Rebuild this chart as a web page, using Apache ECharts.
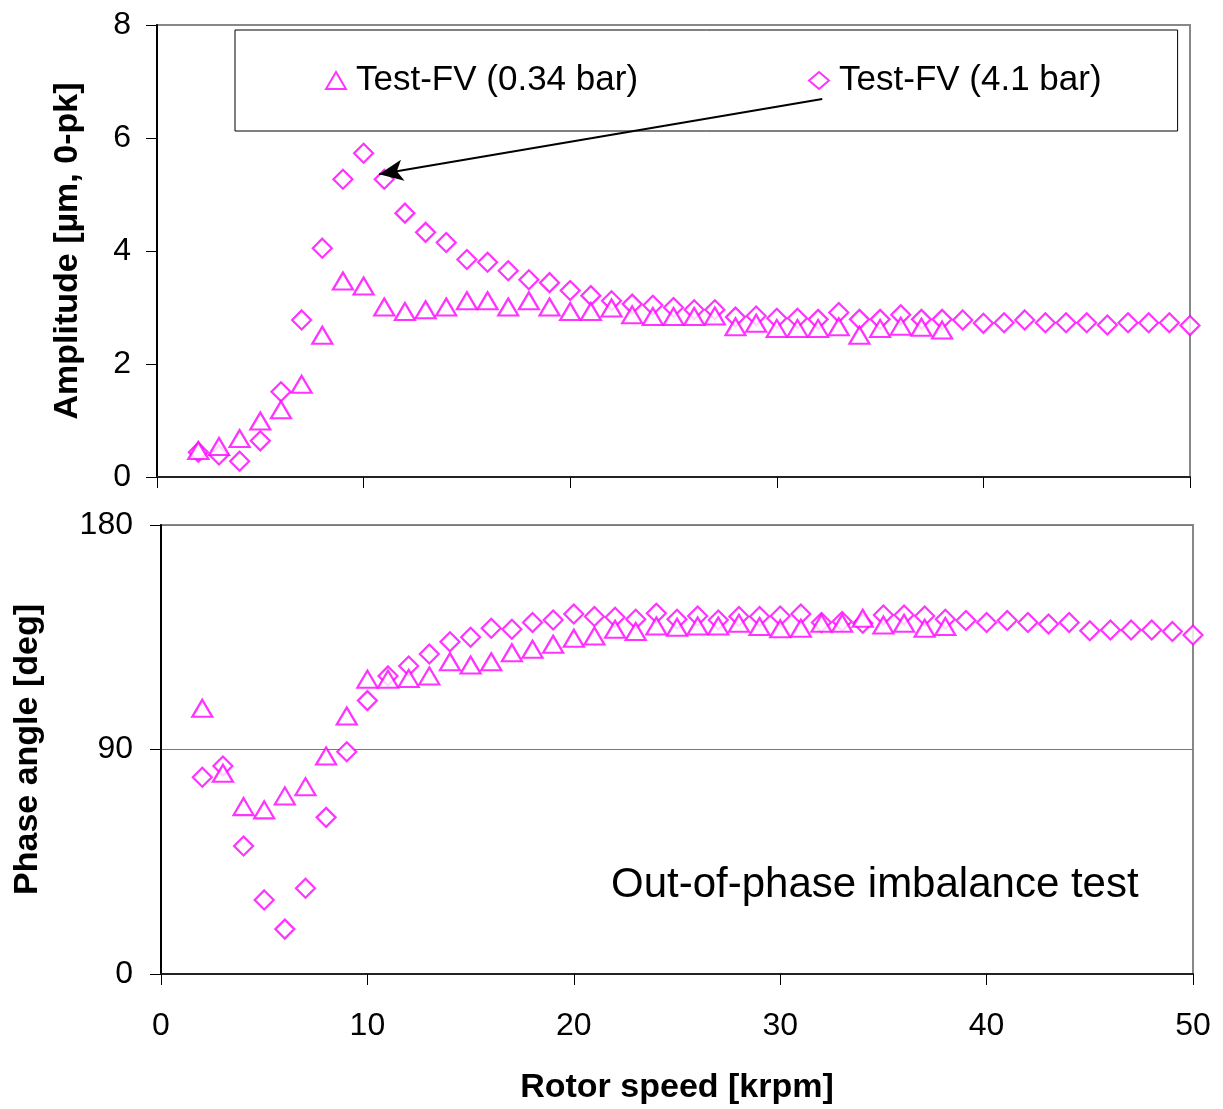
<!DOCTYPE html>
<html>
<head>
<meta charset="utf-8">
<script src="https://cdn.jsdelivr.net/npm/echarts@6/dist/echarts.min.js"></script>
<style>
  html, body { margin: 0; padding: 0; background: #fff; }
  #chart { width: 1223px; height: 1109px; }
</style>
</head>
<body>
<div id="chart"></div>
<script>
// rotor speed [krpm]
const speedLow = [2, 3, 4, 5, 6, 7, 8, 9, 10, 11, 12, 13, 14, 15, 16, 17, 18, 19, 20, 21, 22, 23, 24, 25, 26, 27, 28, 29, 30, 31, 32, 33, 34, 35, 36, 37, 38]
const speedHigh = [2, 3, 4, 5, 6, 7, 8, 9, 10, 11, 12, 13, 14, 15, 16, 17, 18, 19, 20, 21, 22, 23, 24, 25, 26, 27, 28, 29, 30, 31, 32, 33, 34, 35, 36, 37, 38, 39, 40, 41, 42, 43, 44, 45, 46, 47, 48, 49, 50]

// Test-FV (0.34 bar)
const ampLow = [0.47, 0.54, 0.68, 0.99, 1.19, 1.64, 2.51, 3.47, 3.38, 3.01, 2.93, 2.96, 3.01, 3.12, 3.12, 3.01, 3.12, 3.01, 2.93, 2.93, 2.99, 2.87, 2.84, 2.84, 2.84, 2.85, 2.66, 2.72, 2.63, 2.63, 2.63, 2.66, 2.51, 2.63, 2.67, 2.65, 2.60]
const phaseLow = [106.5, 80.5, 67.1, 65.8, 71.4, 75.1, 87.4, 103.4, 118.2, 118.2, 118.5, 119.5, 125.2, 123.9, 125.2, 128.8, 130.2, 132.2, 134.6, 135.5, 138.2, 137.3, 139.5, 139.0, 139.5, 139.5, 140.6, 139.3, 138.4, 138.6, 140.6, 140.6, 142.6, 139.9, 140.6, 138.6, 139.3]

// Test-FV (4.1 bar)
const ampHigh = [0.44, 0.39, 0.28, 0.64, 1.51, 2.78, 4.05, 5.27, 5.73, 5.27, 4.67, 4.33, 4.15, 3.85, 3.80, 3.65, 3.49, 3.44, 3.30, 3.21, 3.12, 3.06, 3.04, 3.00, 2.96, 2.96, 2.83, 2.85, 2.81, 2.81, 2.79, 2.91, 2.79, 2.79, 2.87, 2.79, 2.79, 2.78, 2.72, 2.73, 2.78, 2.73, 2.73, 2.73, 2.69, 2.73, 2.73, 2.73, 2.68]
const phaseHigh = [78.9, 83.4, 51.3, 29.7, 18.0, 34.4, 62.8, 89.1, 109.6, 119.5, 123.5, 128.3, 133.2, 135.0, 138.6, 138.2, 140.9, 141.9, 144.3, 143.3, 143.0, 142.2, 144.6, 142.2, 143.5, 141.9, 143.3, 143.3, 143.5, 144.3, 140.9, 141.3, 140.6, 143.9, 143.9, 143.5, 142.2, 141.7, 140.9, 141.7, 140.9, 140.3, 140.9, 137.6, 137.9, 137.9, 137.9, 137.3, 135.9]

const nameLow = 'Test-FV (0.34 bar)'
const nameHigh = 'Test-FV (4.1 bar)'
const pink = '#ff00ff'
const font = 'Liberation Sans, Arial, sans-serif'

const zip = (xs, ys) => xs.map((x, i) => [x, ys[i]])

const chart = echarts.init(document.getElementById('chart'))

const hollow = { color: '#fff', borderColor: pink, borderWidth: 2.2 }
const axisName = { fontFamily: font, fontSize: 34, fontWeight: 'bold', color: '#000' }

const xAxisBase = {
  type: 'value',
  min: 0,
  max: 50,
  interval: 10,
  axisLine: { show: true, onZero: false, lineStyle: { color: '#222', width: 2 } },
  axisTick: { show: true, length: 11, lineStyle: { color: '#000', width: 1 } },
  splitLine: { show: false }
}

const option = {
  animation: false,
  textStyle: { fontFamily: font },
  title: {
    text: 'Out-of-phase imbalance test',
    left: 606,
    top: 859,
    textStyle: { fontFamily: font, fontSize: 42, fontWeight: 'normal', color: '#000' }
  },
  legend: {
    data: [nameLow, nameHigh],
    left: 235,
    top: 30,
    padding: [33, 76, 33, 90],
    itemGap: 170,
    itemWidth: 20,
    itemHeight: 17,
    borderColor: '#000',
    borderWidth: 1,
    backgroundColor: '#fff',
    textStyle: { fontFamily: font, fontSize: 35, color: '#000', padding: [0, 0, 0, 5] }
  },
  grid: [
    { left: 157, right: 33, top: 25, height: 452, show: true, borderColor: '#888', borderWidth: 2 },
    { left: 161, right: 30, top: 525, height: 449, show: true, borderColor: '#888', borderWidth: 2 }
  ],
  xAxis: [
    Object.assign({}, xAxisBase, { gridIndex: 0, axisLabel: { show: false } }),
    Object.assign({}, xAxisBase, {
      gridIndex: 1,
      name: 'Rotor speed [krpm]',
      nameLocation: 'middle',
      nameGap: 97,
      nameTextStyle: axisName,
      axisLabel: { show: true, margin: 36, fontSize: 32, color: '#000', fontFamily: font }
    })
  ],
  yAxis: [
    {
      type: 'value',
      gridIndex: 0,
      min: 0,
      max: 8,
      interval: 2,
      name: 'Amplitude [µm, 0-pk]',
      nameLocation: 'middle',
      nameGap: 72,
      nameTextStyle: axisName,
      axisLine: { show: true, lineStyle: { color: '#000', width: 2 } },
      axisTick: { show: true, length: 11, lineStyle: { color: '#000', width: 1 } },
      axisLabel: { margin: 26, fontSize: 32, color: '#000', fontFamily: font },
      splitLine: { show: false }
    },
    {
      type: 'value',
      gridIndex: 1,
      min: 0,
      max: 180,
      interval: 90,
      name: 'Phase angle [deg]',
      nameLocation: 'middle',
      nameGap: 116,
      nameTextStyle: axisName,
      axisLine: { show: true, lineStyle: { color: '#000', width: 2 } },
      axisTick: { show: true, length: 11, lineStyle: { color: '#000', width: 1 } },
      axisLabel: { margin: 28, fontSize: 32, color: '#000', fontFamily: font },
      splitLine: { show: true, lineStyle: { color: '#777', width: 1 } }
    }
  ],
  series: [
    {
      name: nameHigh,
      type: 'scatter',
      xAxisIndex: 0,
      yAxisIndex: 0,
      symbol: 'diamond',
      symbolSize: 19,
      itemStyle: hollow,
      data: zip(speedHigh, ampHigh),
      markLine: {
        silent: true,
        symbol: ['none', 'arrow'],
        symbolSize: [16, 24],
        label: { show: false },
        lineStyle: { color: '#000', width: 2, type: 'solid' },
        data: [[{ coord: [32.2, 6.69] }, { coord: [10.75, 5.36] }]]
      }
    },
    {
      name: nameLow,
      type: 'scatter',
      xAxisIndex: 0,
      yAxisIndex: 0,
      symbol: 'triangle',
      symbolSize: [20, 17],
      itemStyle: hollow,
      data: zip(speedLow, ampLow)
    },
    {
      name: nameHigh,
      type: 'scatter',
      xAxisIndex: 1,
      yAxisIndex: 1,
      symbol: 'diamond',
      symbolSize: 19,
      itemStyle: hollow,
      data: zip(speedHigh, phaseHigh)
    },
    {
      name: nameLow,
      type: 'scatter',
      xAxisIndex: 1,
      yAxisIndex: 1,
      symbol: 'triangle',
      symbolSize: [20, 17],
      itemStyle: hollow,
      data: zip(speedLow, phaseLow)
    }
  ]
}

chart.setOption(option)
</script>
</body>
</html>
